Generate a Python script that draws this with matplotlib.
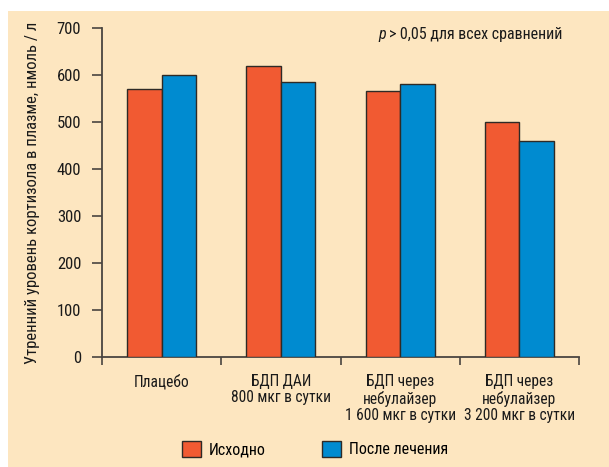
import matplotlib
matplotlib.use("Agg")
import matplotlib.pyplot as plt
from matplotlib.patches import Rectangle, Patch
import numpy as np

categories = ["Плацебо", "БДП ДАИ\n800 мкг в сутки", "БДП через\nнебулайзер\n1 600 мкг в сутки",
              "БДП через\nнебулайзер\n3 200 мкг в сутки"]
baseline = [570, 620, 565, 500]
after = [600, 585, 580, 460]
series_names = ["Исходно", "После лечения"]
yticks = [0, 100, 200, 300, 400, 500, 600, 700]

plt.rcParams['font.family'] = ['Roboto Condensed', 'PT Sans Narrow', 'DejaVu Sans']

W, H = 609, 467
fig = plt.figure(figsize=(W/100, H/100), dpi=100)
fig.patch.set_facecolor("white")
bg = "#FDE6C0"
fig.patches.append(Rectangle((8/W, 0), 1 - 8/W, 1 - 11/H, transform=fig.transFigure,
                             facecolor=bg, edgecolor="none", zorder=-5))

ax = fig.add_axes([102/W, (H-357)/H, (579-102)/W, (357-28)/H])
ax.set_facecolor("none")

orange = "#F15A32"
blue = "#008BD0"
edge = "#2E2A26"
axcol = "#4A4540"
txt = "#1a1a1a"

x = np.arange(len(categories)) + 0.5
bw = 0.289
ax.bar(x - bw/2, baseline, bw, color=orange, edgecolor=edge, linewidth=1.0, zorder=3)
ax.bar(x + bw/2, after, bw, color=blue, edgecolor=edge, linewidth=1.0, zorder=3)

ax.set_xlim(0, len(categories))
ax.set_ylim(0, 700)
for s in ["top", "right"]:
    ax.spines[s].set_visible(False)
for s in ["left", "bottom"]:
    ax.spines[s].set_color(axcol)
    ax.spines[s].set_linewidth(1.3)

ax.set_yticks(yticks)
ax.set_yticklabels([str(v) for v in yticks], fontsize=12, color=txt)
ax.tick_params(axis="y", length=7, width=1.2, color=axcol, pad=8)
ax.set_xticks(np.arange(len(categories) + 1))
ax.set_xticklabels([])
ax.tick_params(axis="x", which="major", length=6, width=1.2, color=axcol)
ax.set_xticks(x, minor=True)
ax.set_xticklabels(categories, minor=True, fontsize=11.2, color=txt, linespacing=1.15)
ax.tick_params(axis="x", which="minor", length=0, pad=12)

ax.set_ylabel("Утренний уровень кортизола в плазме, нмоль / л", fontsize=12, color=txt, labelpad=12)

fig.text(378/W, 1 - 35/H, "p", fontsize=11.5, style="italic", va="center", ha="left", color=txt)
fig.text(389/W, 1 - 35/H, "> 0,05 для всех сравнений", fontsize=11.5, va="center", ha="left", color=txt)

handles = [Patch(facecolor=orange, edgecolor=edge, linewidth=1.0),
           Patch(facecolor=blue, edgecolor=edge, linewidth=1.0)]
fig.legend(handles, series_names, loc="center", bbox_to_anchor=(315/W, 1 - 449/H), ncol=2,
           frameon=False, fontsize=11.5, handlelength=1.19, handleheight=1.19, handletextpad=0.5,
           columnspacing=3.56)

fig.savefig("out.png", dpi=100, facecolor=fig.get_facecolor())
